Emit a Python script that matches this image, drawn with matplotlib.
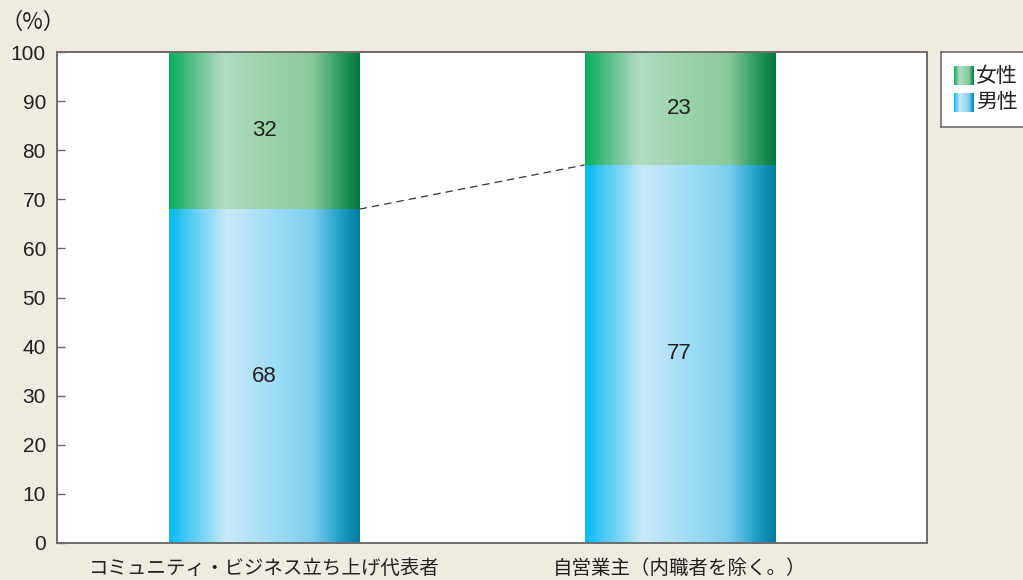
import numpy as np
import matplotlib.pyplot as plt
from matplotlib.colors import LinearSegmentedColormap

plt.rcParams["font.family"] = ["Liberation Sans", "Noto Sans CJK JP", "DejaVu Sans"]

categories = ["コミュニティ・ビジネス立ち上げ代表者", "自営業主（内職者を除く。）"]
male = [68, 77]
female = [32, 23]
series_names = ["女性", "男性"]
y_ticks = [0, 10, 20, 30, 40, 50, 60, 70, 80, 90, 100]

BG = "#efebe0"
TEXT = "#231f20"
CJK = ["Noto Sans CJK JP", "DejaVu Sans"]

green_cmap = LinearSegmentedColormap.from_list(
    "green_tube",
    [(0.0, "#00ae5c"), (0.08, "#3cb878"), (0.28, "#b2dcc0"), (0.55, "#98d2a8"),
     (0.75, "#8cca9c"), (0.88, "#35a065"), (1.0, "#00783c")],
)
blue_cmap = LinearSegmentedColormap.from_list(
    "blue_tube",
    [(0.0, "#00b9f1"), (0.08, "#40c6f3"), (0.30, "#c8e9f9"), (0.55, "#9fdcf6"),
     (0.75, "#7ccfee"), (0.88, "#2aa4cc"), (1.0, "#007ea6")],
)
gradient = np.linspace(0, 1, 256).reshape(1, -1)


def fill_gradient(ax, patch, cmap):
    x0, y0 = patch.get_x(), patch.get_y()
    x1, y1 = x0 + patch.get_width(), y0 + patch.get_height()
    im = ax.imshow(gradient, cmap=cmap, extent=(x0, x1, y0, y1),
                   aspect="auto", interpolation="bilinear", zorder=2)
    im.set_clip_path(patch)
    patch.set_visible(False)


fig = plt.figure(figsize=(10.23, 5.80), dpi=100, facecolor=BG)
ax = fig.add_axes([57 / 1023, 37 / 580, 870 / 1023, 491 / 580])
ax.set_facecolor("white")

x = np.arange(len(categories))
width = 0.458
male_bars = ax.bar(x, male, width, zorder=2)
female_bars = ax.bar(x, female, width, bottom=male, zorder=2)

for bar in male_bars:
    fill_gradient(ax, bar, blue_cmap)
for bar in female_bars:
    fill_gradient(ax, bar, green_cmap)

for i in range(len(categories)):
    ax.text(x[i], male[i] / 2, f"{male[i]}", ha="center", va="center",
            fontsize=16, color=TEXT, zorder=3)
    ax.text(x[i], male[i] + female[i] / 2, f"{female[i]}", ha="center",
            va="center", fontsize=16, color=TEXT, zorder=3)

# dashed connector between the tops of the male segments
ax.plot([x[0] + width / 2, x[1] - width / 2], [male[0], male[1]],
        ls=(0, (6, 4)), color="#333333", lw=0.9, zorder=3)

ax.set_xlim(-0.5, 1.596)
ax.set_ylim(0, 100)
ax.set_yticks(y_ticks)
ax.set_xticks(x)
ax.set_xticklabels(categories, family=CJK)
ax.tick_params(axis="y", direction="in", length=6, width=1, color="#666666",
               labelsize=15, labelcolor=TEXT, pad=8)
ax.tick_params(axis="x", length=0, labelsize=14, labelcolor=TEXT, pad=11)
for spine in ax.spines.values():
    spine.set_color("#6d6d6d")
    spine.set_linewidth(1.4)

fig.text(1 / 1023, 1 - 22 / 580, "（%）", fontsize=16, color=TEXT,
         ha="left", va="center", family=CJK)

# legend panel with gradient swatches
leg = fig.add_axes([941 / 1023, 1 - 127 / 580, 90 / 1023, 75 / 580])
leg.set_xlim(0, 90)
leg.set_ylim(75, 0)
leg.set_facecolor("white")
leg.set_xticks([])
leg.set_yticks([])
for spine in leg.spines.values():
    spine.set_color("#6d6d6d")
    spine.set_linewidth(1.2)
for i, (name, cmap) in enumerate(zip(series_names, [green_cmap, blue_cmap])):
    top = 14 + i * 27
    leg.imshow(gradient, cmap=cmap, extent=(13, 33, top + 19, top),
               aspect="auto", interpolation="bilinear")
    leg.text(35, top + 9.5, name, fontsize=15, color=TEXT, ha="left",
             va="center", family=CJK)

fig.savefig("out.png", dpi=100, facecolor=BG)
